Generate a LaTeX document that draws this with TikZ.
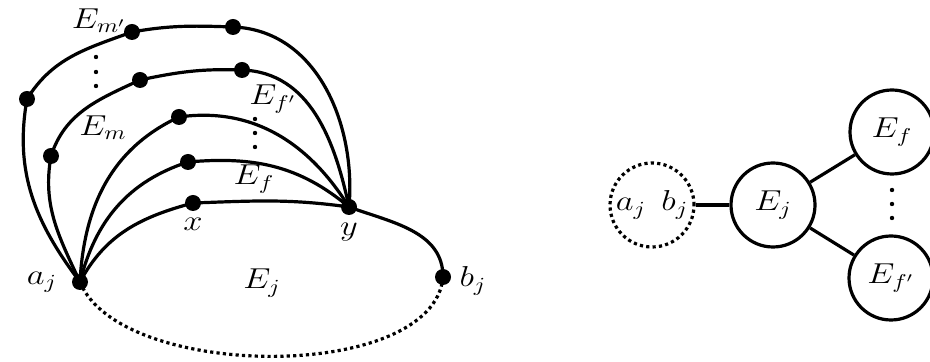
\documentclass[tikz,border=0pt]{standalone}
\newcommand{\mylab}[1]{\scalebox{1.2}[1]{$#1$}}
\begin{document}
\begin{tikzpicture}[x=0.5pt,y=-0.5pt,
  line width=1.6pt,
  vtx/.style={circle,fill=black,inner sep=0pt,minimum size=8pt},
  lbl/.style={inner sep=0pt,font=\Large},
  bignode/.style={circle,draw,line width=1.6pt,minimum size=42pt,inner sep=0pt,font=\Large},
  dotline/.style={dash pattern=on 1.6pt off 1.6pt},
  smalldot/.style={circle,fill=black,inner sep=0pt,minimum size=2.2pt}]
\useasboundingbox (0,0) rectangle (930,362);
% vertices
\node[vtx] (aj) at (80,282) {};
\node[vtx] (bj) at (443,277) {};
\node[vtx] (y) at (349,207) {};
\node[vtx] (x) at (193,203) {};
\node[vtx] (c2) at (188,162) {};
\node[vtx] (c3) at (179,117) {};
\node[vtx] (c4a) at (51,156) {};
\node[vtx] (c4b) at (140,80) {};
\node[vtx] (c4c) at (242,70) {};
\node[vtx] (c5a) at (27,99) {};
\node[vtx] (c5b) at (132,32) {};
\node[vtx] (c5c) at (233,27) {};
% curves
\draw (aj.center) to[out=62,in=195] (x.center) to[out=2,in=172] (y.center) to[out=-20,in=90] (bj.center);
\draw (aj.center) to[out=76,in=198] (c2.center) to[out=5,in=140] (y.center);
\draw (aj.center) to[out=87,in=205] (c3.center) to[out=8,in=122] (y.center);
\draw (aj.center) to[out=115,in=-100] (c4a.center) to[out=72,in=205] (c4b.center) to[out=12,in=178] (c4c.center) to[out=-2,in=102] (y.center);
\draw (aj.center) to[out=127,in=-100] (c5a.center) to[out=58,in=200] (c5b.center) to[out=10,in=178] (c5c.center) to[out=-2,in=85] (y.center);
\draw[dotline] (aj.center) to[out=-68,in=-95,looseness=0.75] (bj.center);
% labels
\node[lbl] at (42,282) {\mylab{a_j}};
\node[lbl] at (473,281) {\mylab{b_j}};
\node[lbl] at (193,224) {\mylab{x}};
\node[lbl] at (349,232) {\mylab{y}};
\node[lbl] at (262,283) {\mylab{E_j}};
\node[lbl] at (254,179) {\mylab{E_f}};
\node[lbl] at (273,99) {\mylab{E_{f'}}};
\node[lbl] at (103,128) {\mylab{E_m}};
\node[lbl] at (99,21) {\mylab{E_{m'}}};
% vertical dots
\node[smalldot] (l1) at (96,57) {};
\node[smalldot] (l2) at (96,72) {};
\node[smalldot] (l3) at (96,86) {};
\node[smalldot] (m1) at (255,119) {};
\node[smalldot] (m2) at (255,133) {};
\node[smalldot] (m3) at (255,147) {};
% right diagram
\node[bignode,draw=none] (ab) at (652,205) {\mylab{a_j\;\, b_j}};
\draw[dotline] (ab.center) circle (21pt);
\node[bignode] (Ej) at (773,205) {\mylab{E_j}};
\node[bignode] (Ef) at (892,132) {\mylab{E_f}};
\node[bignode] (Efp) at (891,278) {\mylab{E_{f'}}};
\draw (ab) -- (Ej);
\draw (Ej) -- (Ef);
\draw (Ej) -- (Efp);
\node[smalldot] (r1) at (892,190) {};
\node[smalldot] (r2) at (892,204) {};
\node[smalldot] (r3) at (892,218) {};
\end{tikzpicture}
\end{document}
